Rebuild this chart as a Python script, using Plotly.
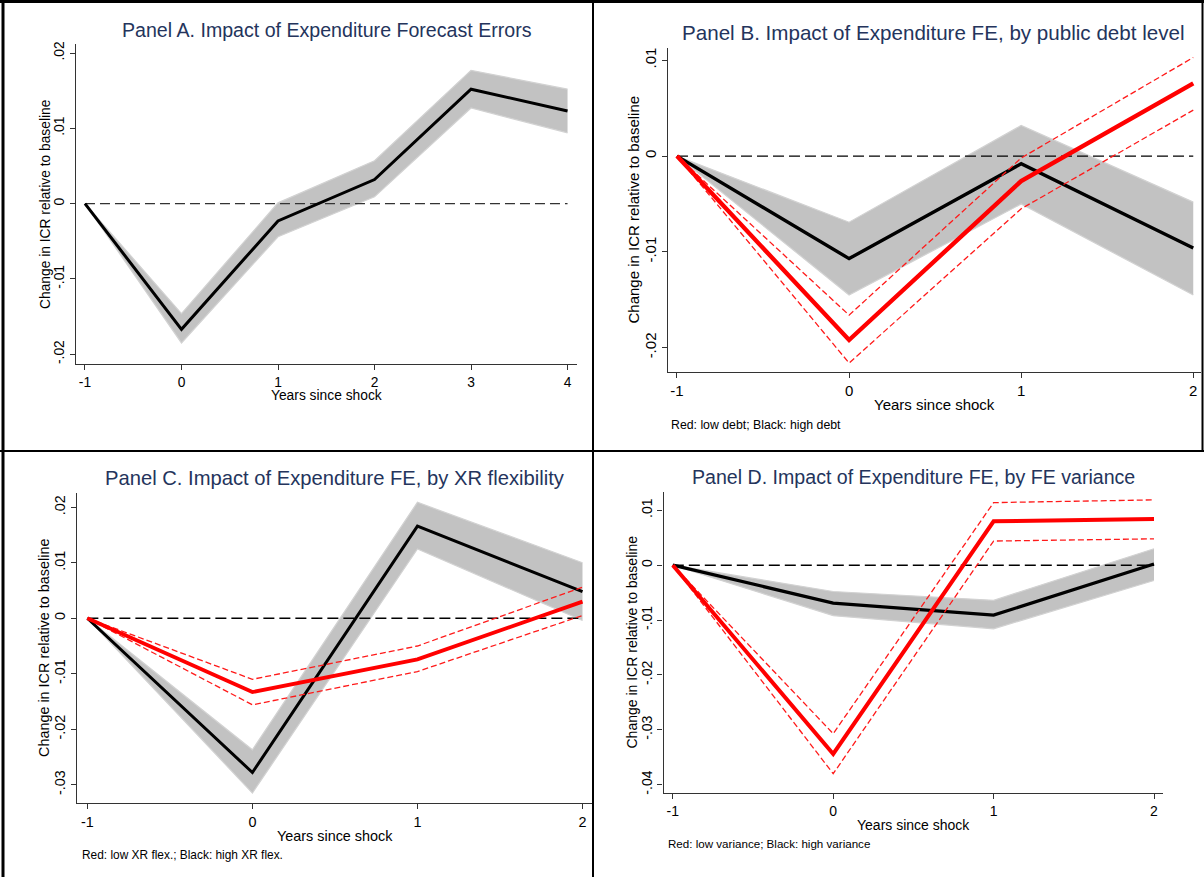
import plotly.graph_objects as go

# ---------------- data ----------------
years_A = [-1, 0, 1, 2, 3, 4]
A_est = [0, -0.0167, -0.0023, 0.0032, 0.0152, 0.0123]
A_hi = [0, -0.0146, 0.0001, 0.0057, 0.0177, 0.0152]
A_lo = [0, -0.0185, -0.0044, 0.0009, 0.0127, 0.0094]

years_B = [-1, 0, 1, 2]
B_high_est = [0, -0.0107, -0.0008, -0.0096]
B_high_hi = [0, -0.0069, 0.0032, -0.0048]
B_high_lo = [0, -0.0145, -0.0050, -0.0145]
B_low_est = [0, -0.0192, -0.0026, 0.0076]
B_low_hi = [0, -0.0166, -0.0002, 0.0103]
B_low_lo = [0, -0.0216, -0.0055, 0.0048]

years_C = [-1, 0, 1, 2]
C_high_est = [0, -0.0278, 0.0166, 0.0048]
C_high_hi = [0, -0.0237, 0.0209, 0.0100]
C_high_lo = [0, -0.0315, 0.0125, -0.0004]
C_low_est = [0, -0.0133, -0.0074, 0.0030]
C_low_hi = [0, -0.0110, -0.0050, 0.0056]
C_low_lo = [0, -0.0156, -0.0096, 0.0005]

years_D = [-1, 0, 1, 2]
D_high_est = [0, -0.0069, -0.0091, 0.0002]
D_high_hi = [0, -0.0048, -0.0064, 0.0030]
D_high_lo = [0, -0.0092, -0.0116, -0.0028]
D_low_est = [0, -0.0344, 0.0080, 0.0084]
D_low_hi = [0, -0.0307, 0.0114, 0.0119]
D_low_lo = [0, -0.0380, 0.0044, 0.0048]

yticks_A = [-0.02, -0.01, 0, 0.01, 0.02]
yticks_B = [-0.02, -0.01, 0, 0.01]
yticks_C = [-0.03, -0.02, -0.01, 0, 0.01, 0.02]
yticks_D = [-0.04, -0.03, -0.02, -0.01, 0, 0.01]

titles = [
    "Panel A. Impact of Expenditure Forecast Errors",
    "Panel B. Impact of Expenditure FE, by public debt level",
    "Panel C. Impact of Expenditure FE, by XR flexibility",
    "Panel D. Impact of Expenditure FE, by FE variance",
]
notes = [None, "Red: low debt; Black: high debt",
         "Red: low XR flex.; Black: high XR flex.",
         "Red: low variance; Black: high variance"]
xlabel = "Years since shock"
ylabel = "Change in ICR relative to baseline"


def stata_label(v):
    if v == 0:
        return "0"
    s = f"{v:.2f}".rstrip("0")
    return s.replace("0.", ".")


# ---------------- layout (pixels in 1204 x 877 page) ----------------
W, H = 1204, 877
FONT = "Liberation Sans"
TITLE_COLOR = "#24345C"
AXIS_COLOR = "#333333"

panels = [
    dict(box=(76, 577, 44, 364), xr=(-1.093, 4.098), yr=(-0.0213, 0.0212),
         title_xy=(326.5, 30), tsize=19.6, ytitle_x=45, xtitle_y=395.5, fsize=13.8,
         note_xy=None, nsize=12, zdash="10px,5px", zcolor="#333333", bw=3.0, rw=4.0),
    dict(box=(667.7, 1201, 47.7, 372.3), xr=(-1.054, 2.045), yr=(-0.02257, 0.01132),
         title_xy=(933, 33), tsize=20.6, ytitle_x=633.5, xtitle_y=405, fsize=15.0,
         note_xy=(668.5, 425), nsize=12.3, zdash="11px,5px", zcolor="#000000", bw=3.4, rw=4.4),
    dict(box=(77.3, 592.4, 492.7, 803.3), xr=(-1.061, 2.06), yr=(-0.03335, 0.02263),
         title_xy=(335, 478), tsize=20.2, ytitle_x=44, xtitle_y=836, fsize=14.4,
         note_xy=(79.6, 855), nsize=11.9, zdash="11px,5px", zcolor="#000000", bw=3.0, rw=3.8),
    dict(box=(663.5, 1163.3, 491.7, 793.3), xr=(-1.058, 2.058), yr=(-0.04157, 0.01339),
         title_xy=(913.5, 476.7), tsize=19.6, ytitle_x=631, xtitle_y=824.8, fsize=14.0,
         note_xy=(665.8, 843.3), nsize=11.6, zdash="11px,5px", zcolor="#000000", bw=3.2, rw=4.0),
]

series = [
    dict(x=years_A, yt=yticks_A, black=(A_est, A_hi, A_lo), red=None),
    dict(x=years_B, yt=yticks_B, black=(B_high_est, B_high_hi, B_high_lo),
         red=(B_low_est, B_low_hi, B_low_lo)),
    dict(x=years_C, yt=yticks_C, black=(C_high_est, C_high_hi, C_high_lo),
         red=(C_low_est, C_low_hi, C_low_lo)),
    dict(x=years_D, yt=yticks_D, black=(D_high_est, D_high_hi, D_high_lo),
         red=(D_low_est, D_low_hi, D_low_lo)),
]

fig = go.Figure()
annotations = []
shapes = []
layout_axes = {}

for i, (p, s) in enumerate(zip(panels, series)):
    n = i + 1
    xa = "x" if n == 1 else f"x{n}"
    ya = "y" if n == 1 else f"y{n}"
    xkey = "xaxis" if n == 1 else f"xaxis{n}"
    ykey = "yaxis" if n == 1 else f"yaxis{n}"
    x0, x1, y0, y1 = p["box"]
    xs = s["x"]
    est, hi, lo = s["black"]

    # confidence band (gray)
    fig.add_trace(go.Scatter(x=xs, y=lo, xaxis=xa, yaxis=ya, mode="lines",
                             line=dict(color="#D2D2D2", width=1.2),
                             showlegend=False, hoverinfo="skip"))
    fig.add_trace(go.Scatter(x=xs, y=hi, xaxis=xa, yaxis=ya, mode="lines",
                             fill="tonexty", fillcolor="#C2C2C2",
                             line=dict(color="#D2D2D2", width=1.2),
                             showlegend=False, hoverinfo="skip"))
    # zero reference line
    fig.add_trace(go.Scatter(x=[xs[0], xs[-1]], y=[0, 0], xaxis=xa, yaxis=ya,
                             mode="lines",
                             line=dict(color=p["zcolor"], width=1.4, dash=p["zdash"]),
                             showlegend=False, hoverinfo="skip"))
    # black estimate
    fig.add_trace(go.Scatter(x=xs, y=est, xaxis=xa, yaxis=ya, mode="lines",
                             line=dict(color="#000000", width=p["bw"]),
                             showlegend=False))
    if s["red"] is not None:
        r_est, r_hi, r_lo = s["red"]
        for band in (r_hi, r_lo):
            fig.add_trace(go.Scatter(x=xs, y=band, xaxis=xa, yaxis=ya, mode="lines",
                                     line=dict(color="#FF1A1A", width=1.3, dash="6px,3px"),
                                     showlegend=False, hoverinfo="skip"))
        fig.add_trace(go.Scatter(x=xs, y=r_est, xaxis=xa, yaxis=ya, mode="lines",
                                 line=dict(color="#FF0000", width=p["rw"]),
                                 showlegend=False))

    layout_axes[xkey] = dict(
        domain=[x0 / W, x1 / W], range=list(p["xr"]), anchor=ya,
        showline=True, linecolor=AXIS_COLOR, linewidth=1.3, mirror=False,
        ticks="outside", ticklen=5, tickwidth=1.2, tickcolor=AXIS_COLOR,
        tickvals=xs, ticktext=[str(v) for v in xs], ticklabeloverflow="allow",
        tickfont=dict(family=FONT, size=p["fsize"], color="#000000"),
        showgrid=False, zeroline=False, automargin=False, fixedrange=True)
    layout_axes[ykey] = dict(
        domain=[1 - y1 / H, 1 - y0 / H], range=list(p["yr"]), anchor=xa,
        showline=True, linecolor=AXIS_COLOR, linewidth=1.3,
        ticks="outside", ticklen=5, tickwidth=1.2, tickcolor=AXIS_COLOR,
        tickvals=s["yt"], ticktext=[stata_label(v) for v in s["yt"]],
        tickangle=-90, ticklabeloverflow="allow",
        tickfont=dict(family=FONT, size=p["fsize"], color="#000000"),
        showgrid=False, zeroline=False, automargin=False, fixedrange=True)

    # panel title
    tx, ty = p["title_xy"]
    annotations.append(dict(text=titles[i], xref="paper", yref="paper",
                            x=tx / W, y=1 - ty / H, xanchor="center", yanchor="middle",
                            showarrow=False,
                            font=dict(family=FONT, size=p["tsize"], color=TITLE_COLOR)))
    # axis titles
    annotations.append(dict(text=xlabel, xref="paper", yref="paper",
                            x=(x0 + x1) / 2 / W, y=1 - p["xtitle_y"] / H,
                            xanchor="center", yanchor="middle", showarrow=False,
                            font=dict(family=FONT, size=p["fsize"], color="#000000")))
    annotations.append(dict(text=ylabel, xref="paper", yref="paper",
                            x=p["ytitle_x"] / W, y=1 - (y0 + y1) / 2 / H,
                            xanchor="center", yanchor="middle", textangle=-90,
                            showarrow=False,
                            font=dict(family=FONT, size=p["fsize"], color="#000000")))
    if notes[i] is not None:
        nx, ny = p["note_xy"]
        annotations.append(dict(text=notes[i], xref="paper", yref="paper",
                                x=nx / W, y=1 - ny / H, xanchor="left", yanchor="middle",
                                showarrow=False,
                                font=dict(family=FONT, size=p["nsize"], color="#000000")))

# frame lines around the panels
def hline(y, xa, xb, w):
    shapes.append(dict(type="line", xref="paper", yref="paper",
                       x0=xa / W, x1=xb / W, y0=1 - y / H, y1=1 - y / H,
                       line=dict(color="#000000", width=w)))

def vline(x, ya, yb, w):
    shapes.append(dict(type="line", xref="paper", yref="paper",
                       x0=x / W, x1=x / W, y0=1 - ya / H, y1=1 - yb / H,
                       line=dict(color="#000000", width=w)))

hline(1.5, 0, W, 3)
hline(451, 0, W, 2)
vline(3, 0, H, 3)
vline(593, 0, H, 2)
vline(1202.5, 0, 451, 2)

fig.update_layout(
    width=W, height=H,
    margin=dict(l=0, r=0, t=0, b=0),
    paper_bgcolor="white", plot_bgcolor="white",
    showlegend=False,
    annotations=annotations, shapes=shapes,
    **layout_axes,
)

fig.write_html("out.html",
               config={"displayModeBar": False},
               post_script="document.body.style.margin='0px';"
                           "document.body.style.overflow='hidden';")
